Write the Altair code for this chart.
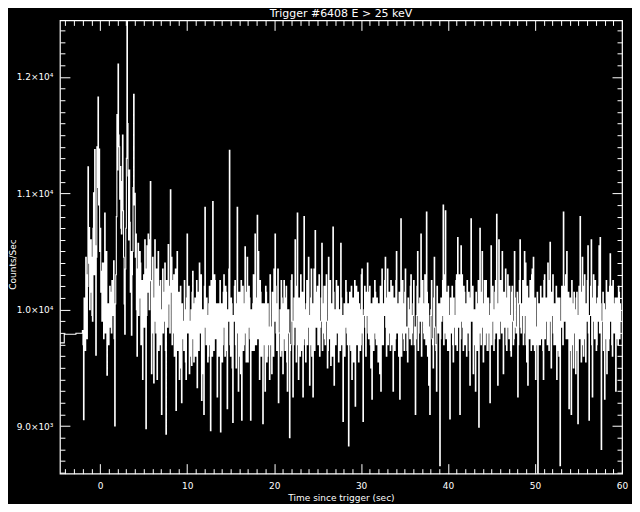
import altair as alt
import pandas as pd

# ---- data ----
chart_title = "Trigger #6408 E > 25 keV"

# coarse pre-trigger bins (start time, counts/s)
pre_times = [-4.63, -4.13, -2.79]
pre_counts = [9715, 9789, 9798]

# fine-resolution bins start at -2.048 s, 0.064 s wide; values come in pairs
# (first half = segN, second half = partN)
bin_start = -2.048
bin_width = 0.064

seg1 = [9820, 9054, 10050, 10450, 9750, 11228, 10705, 10150, 10450, 9900,
        11005, 11375, 9608, 11400, 11828, 11380, 10700, 10330, 10400, 9750,
        10830, 10100, 9437, 10050, 9850, 10150, 9800, 10100, 10420, 9000,
        10300, 11676, 12110, 11400, 11230, 10650, 11500, 10450, 9790, 10700,
        12700, 11150, 11200, 10150, 9780, 10500, 11850, 11000, 10650, 9600,
        10570, 10100, 10400, 9900, 9400, 10300, 10600, 8977, 10550, 10650,
        10000, 11100, 9450, 10450, 9370, 10600, 9800, 9400, 10500, 9700,
        10250, 9100, 10350, 9900, 10400, 8930, 10100, 10560]
part1 = [9700, 10100, 9650, 10300, 10200, 10400, 10000, 10600, 9950, 10700,
         10300, 10550, 10450, 11050, 10900, 10500, 10150, 9900, 10250, 10400,
         9800, 10500, 10000, 9700, 10200, 9850, 10250, 9950, 9750, 10050,
         10800, 11200, 11500, 10950, 10700, 11100, 10850, 10050, 10350, 11300,
         11600, 10600, 10750, 10500, 10300, 11050, 10900, 10450, 10000, 10350,
         9950, 10500, 9700, 10250, 10050, 9850, 10350, 9950, 10150, 10300,
         10600, 10250, 10050, 9800, 10100, 9900, 10350, 10150, 9650, 10200,
         9700, 10000, 9800, 10150, 9650, 10250, 9850, 10050]

seg2 = [10200, 11030, 10450, 9800, 10300, 9950, 9135, 10500, 9700, 9400,
        10200, 9200, 9900, 9650, 10000, 9400, 10650, 9850, 9450, 9900,
        9520, 10330, 9550, 10100, 9700, 9330, 10150, 10400, 9800, 9220,
        10000, 9100, 10880, 9700, 9950, 9600, 10200, 8960, 10100, 10930,
        9650, 10250, 9800, 9250, 10050, 9750, 8950, 10050, 9700, 10300,
        9600, 10150, 9150, 9900, 11370, 9600, 10050, 9030, 9900, 10250,
        9500, 10880, 9300, 10150, 9450, 9050, 10200, 9700, 10540, 9550,
        10450, 9850, 10100, 9050, 9900, 10050, 9650, 10650]
part2 = [9800, 10150, 9700, 10250, 9600, 10350, 9900, 9650, 10150, 9850,
         9500, 10050, 9750, 10250, 9550, 10100, 9800, 10200, 9600, 10000,
         10150, 9750, 10050, 9600, 10250, 9900, 9650, 9950, 10300, 9700,
         9450, 10200, 9850, 10100, 9550, 10050, 9700, 10250, 9600, 9900,
         10300, 9750, 10050, 9900, 9600, 10250, 9800, 9550, 10150, 9850,
         10200, 9650, 10000, 10350, 9700, 10100, 9500, 9950, 10200, 9700,
         10050, 9800, 10150, 9600, 10250, 9850, 9650, 10050, 9800, 10150,
         9550, 10200, 9750, 10000, 9650, 10300, 9900, 9700]

seg3 = [9700, 10810, 10500, 9400, 10150, 9800, 9020, 10050, 9300, 10150,
        9600, 9850, 9400, 9700, 9450, 10000, 10350, 10650, 9800, 10050,
        9200, 9800, 9600, 10100, 9450, 10250, 9650, 10200, 9300, 10000,
        8900, 9700, 10300, 9250, 10100, 10600, 9550, 10830, 9400, 10050,
        10300, 9650, 9250, 10800, 9750, 10050, 9700, 10450, 9350, 10100,
        9600, 9250, 10350, 10680, 9850, 10200, 9950, 9600, 9900, 10570,
        9800, 10200, 9700, 10300, 9500, 10450, 9750, 9520, 10050, 10710,
        9350, 10000, 10250, 9800, 9550, 10000, 10570, 9700]
part3 = [10100, 9750, 9950, 10250, 9600, 10050, 9850, 9700, 10200, 9550,
         10050, 9700, 10300, 9850, 10150, 9600, 9900, 10200, 9650, 10350,
         9800, 10000, 10250, 9650, 10050, 9750, 10100, 9550, 10000, 9800,
         9650, 10250, 9900, 9700, 9850, 10050, 10200, 9700, 10100, 9600,
         9900, 10150, 9700, 10000, 9550, 10250, 9850, 9950, 9700, 10350,
         10050, 9800, 9650, 10150, 9900, 9700, 10300, 9850, 10100, 9650,
         10050, 9750, 10200, 9900, 9650, 10050, 10250, 9800, 9600, 10150,
         10000, 9700, 9900, 10200, 9800, 9650, 10100, 9950]

seg4 = [9040, 10050, 9850, 10150, 9700, 8830, 10150, 9650, 9400, 10100,
        9750, 9170, 10200, 9900, 9550, 10000, 9700, 10350, 9040, 10000,
        9850, 10150, 10400, 9750, 10200, 9500, 9230, 10100, 9800, 10150,
        9700, 9900, 10050, 9450, 9300, 10350, 9700, 9950, 10450, 9600,
        10350, 9800, 10000, 10250, 9700, 9300, 10100, 9750, 10500, 9900,
        9600, 9230, 10780, 9800, 10050, 9650, 10350, 9850, 9550, 10000,
        9750, 10300, 9800, 10050, 9700, 9100, 9950, 10500, 9800, 10100,
        10650, 9900, 10050, 9750, 10100, 10840, 9600, 9350]
part4 = [9850, 9600, 10250, 9800, 10050, 9700, 9950, 10200, 9750, 9550,
         10250, 9900, 9700, 10150, 10050, 9650, 10300, 9800, 9950, 10200,
         9600, 9950, 9800, 10150, 9700, 10050, 9850, 9650, 10250, 9750,
         10100, 9550, 9850, 10200, 9950, 9700, 10050, 10250, 9850, 10100,
         9700, 10150, 9650, 9900, 10200, 9850, 9650, 10250, 9800, 10050,
         10150, 9850, 9600, 10250, 9750, 10150, 9800, 9650, 10100, 9850,
         10200, 9700, 9950, 10250, 9850, 9750, 10200, 9650, 10050, 9900,
         9600, 10250, 9800, 10300, 9700, 10150, 10050, 9850]

seg5 = [9100, 10000, 9750, 9500, 10450, 9700, 9300, 10050, 9800, 8660,
        10100, 9950, 10900, 9800, 10850, 10150, 9650, 9950, 9060, 9900,
        10200, 9550, 9950, 9700, 10300, 10620, 9850, 9100, 10550, 10300,
        9650, 10150, 9800, 9600, 10050, 10150, 9350, 10780, 9900, 9450,
        10000, 9300, 10050, 9750, 8990, 10700, 9700, 10500, 9550, 10250,
        9800, 10100, 9650, 9950, 9200, 10550, 9900, 10000, 9750, 10250,
        10820, 9350, 10600, 9900, 10150, 10500, 9450, 9850, 10350, 9650,
        10300, 9750, 9950, 9600, 10200, 9700, 10500, 9850]
part5 = [9950, 10250, 9700, 10100, 9850, 9650, 10200, 9800, 10050, 9750,
         9900, 10250, 9700, 10300, 9750, 9950, 10200, 9650, 10100, 9800,
         9700, 10100, 9850, 10250, 9650, 10100, 10300, 9750, 9900, 9850,
         10200, 9700, 10050, 10250, 9800, 9650, 10100, 9900, 10200, 9700,
         9850, 10150, 9650, 10250, 9800, 9950, 10150, 9850, 10050, 9700,
         10250, 9650, 10100, 9800, 10050, 9700, 10200, 9650, 10150, 9800,
         9950, 10050, 9750, 10250, 9800, 9900, 10150, 10050, 9700, 10100,
         9850, 10200, 9650, 10150, 9900, 9750, 10100, 9800]

seg6 = [9850, 9250, 10050, 10600, 9800, 9950, 9700, 10500, 10400, 9550,
        9350, 10100, 10250, 9650, 10350, 10450, 9650, 9400, 9700, 8550,
        10050, 9700, 9950, 10100, 9400, 10300, 9900, 10100, 10400, 9650,
        10580, 9500, 9950, 9800, 10050, 9700, 9400, 10100, 9600, 8660,
        9850, 10050, 10840, 9900, 10300, 10500, 9750, 9150, 10100, 9100,
        10050, 9500, 10000, 9450, 10150, 9020, 10200, 10800, 9550, 10450,
        9600, 10300, 9550, 9900, 10550, 9050, 9950, 10600, 9250, 10300,
        9750, 10050, 9700, 9900, 10550, 10620, 8800, 9900]
part6 = [10150, 9700, 10250, 9850, 10050, 10250, 9800, 9950, 9700, 10200,
         10050, 9750, 9850, 10300, 9700, 9950, 10100, 9850, 10150, 9800,
         9700, 10200, 9750, 9650, 10250, 9750, 10100, 9700, 9850, 10250,
         9900, 10150, 10300, 9700, 9850, 10200, 10050, 9650, 10100, 9900,
         10200, 9700, 10050, 10200, 9750, 9800, 10150, 9850, 9650, 10250,
         9700, 10150, 9800, 10100, 9650, 9950, 9750, 10000, 10150, 9700,
         10200, 9750, 10050, 10250, 9800, 9950, 10200, 9700, 10100, 9900,
         10250, 9650, 10100, 10200, 9800, 10050, 9900, 10150]

seg7 = [9650, 9230, 10000, 9450, 10150, 9750, 10480, 10200, 9600, 10050,
        9850, 9300, 10100, 9700, 10150, 9900]
part7 = [10050, 9750, 10250, 9800, 9650, 10200, 9900, 9700, 10250, 9800,
         10100, 9750, 9900, 10200, 9750, 10050]

first_halves = seg1 + seg2 + seg3 + seg4 + seg5 + seg6 + seg7
second_halves = part1 + part2 + part3 + part4 + part5 + part6 + part7
counts_hi = []
for a, b in zip(first_halves, second_halves):
    counts_hi += [a, b]
times_hi = [round(bin_start + bin_width * i, 3) for i in range(len(counts_hi))]

times = pre_times + times_hi + [round(times_hi[-1] + bin_width, 3)]
counts = pre_counts + counts_hi + [counts_hi[-1]]
df = pd.DataFrame({"t": times, "c": counts})

x_domain = [-4.63, 60]
y_domain = [8591, 12486]
x_ticks = list(range(-4, 61))
y_ticks = list(range(8600, 12500, 100))

W, H = 563, 454
FONT = "DejaVu Sans"

xs = alt.Scale(domain=x_domain, nice=False, zero=False)
ys = alt.Scale(domain=y_domain, nice=False, zero=False)

x_size = {"condition": {"test": "datum.value % 10 === 0", "value": 10}, "value": 5}
y_size = {"condition": {"test": "datum.value % 1000 === 0", "value": 10}, "value": 5}

y_label = ("datum.value % 1000 === 0 ? (datum.value < 10000 ? "
           "format(datum.value / 1000, '.1f') + '×10³' : "
           "format(datum.value / 10000, '.1f') + '×10⁴') : ''")

base = alt.Chart(df)

line = base.mark_line(interpolate="step-after", color="white", strokeWidth=1.1, clip=True).encode(
    x=alt.X("t:Q", scale=xs, axis=alt.Axis(
        orient="bottom", values=x_ticks, ticks=False, domain=False, grid=False,
        labelExpr="datum.value % 10 === 0 ? datum.label : ''",
        labelOverlap=False, labelFlush=False, labelPadding=8,
        labelColor="white", labelFont=FONT, labelFontSize=9,
        title="Time since trigger (sec)", titleColor="white", titleFont=FONT,
        titleFontSize=9, titleFontWeight="normal", titlePadding=3)),
    y=alt.Y("c:Q", scale=ys, axis=alt.Axis(
        orient="left", values=y_ticks, ticks=False, domain=False, grid=False,
        labelExpr=y_label, labelOverlap=False, labelFlush=False, labelPadding=7,
        labelColor="white", labelFont=FONT, labelFontSize=9,
        title="Counts/Sec", titleColor="white", titleFont=FONT,
        titleFontSize=9, titleFontWeight="normal",
        titleX=-42, titleY=244, titleAngle=270, titleAlign="center",
        titleBaseline="bottom")),
)

ticks_a = base.mark_line(opacity=0).encode(
    x=alt.X("t:Q", scale=xs, axis=alt.Axis(
        orient="top", offset=-H, values=x_ticks, labels=False, domain=False,
        grid=False, title=None, tickColor="white", tickWidth=1, tickSize=x_size)),
    y=alt.Y("c:Q", scale=ys, axis=alt.Axis(
        orient="right", offset=-W, values=y_ticks, labels=False, domain=False,
        grid=False, title=None, tickColor="white", tickWidth=1, tickSize=y_size)),
)

ticks_b = base.mark_line(opacity=0).encode(
    x=alt.X("t:Q", scale=xs, axis=alt.Axis(
        orient="bottom", offset=-H, values=x_ticks, labels=False, domain=False,
        grid=False, title=None, tickColor="white", tickWidth=1, tickSize=x_size)),
    y=alt.Y("c:Q", scale=ys, axis=alt.Axis(
        orient="left", offset=-W, values=y_ticks, labels=False, domain=False,
        grid=False, title=None, tickColor="white", tickWidth=1, tickSize=y_size)),
)

title_text = alt.Chart(pd.DataFrame({"label": [chart_title]})).mark_text(
    color="white", font=FONT, fontSize=11, align="center", baseline="alphabetic"
).encode(text="label:N", x=alt.value(W / 2), y=alt.value(-3))

chart = alt.layer(line, ticks_a, ticks_b, title_text).resolve_axis(
    x="independent", y="independent"
).properties(
    width=W, height=H,
    autosize=alt.AutoSizeParams(type="none"),
    padding={"left": 52, "top": 12, "right": 10, "bottom": 30},
    background="black",
).configure_view(stroke="white", strokeWidth=1.2)

chart.save("out.html", embed_options={"renderer": "svg", "actions": False})
